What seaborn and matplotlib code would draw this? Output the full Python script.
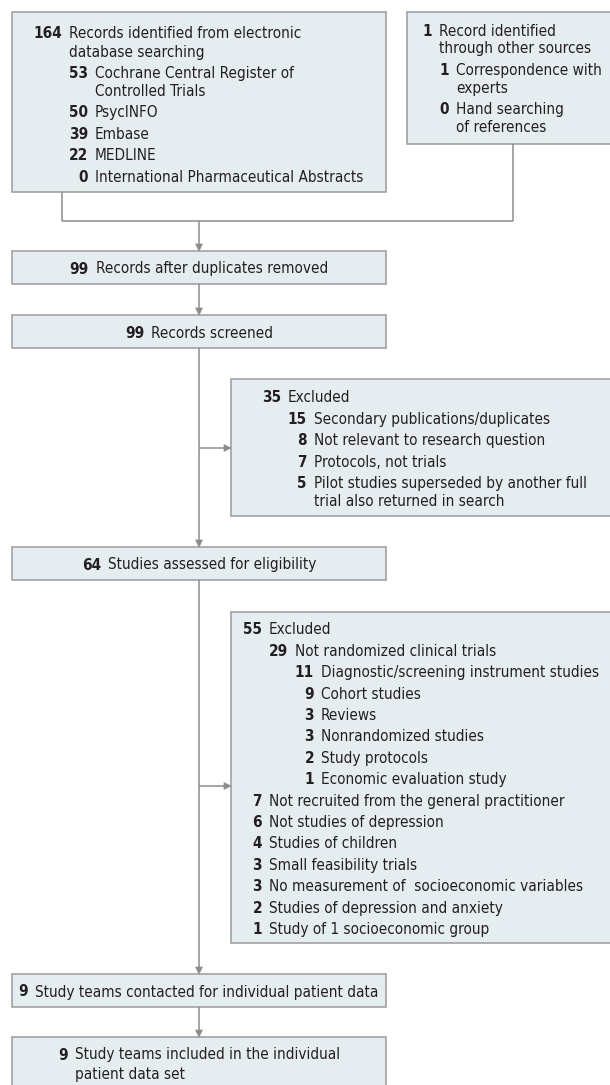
import matplotlib
matplotlib.use("Agg")
import matplotlib.pyplot as plt
from matplotlib.patches import Rectangle, Polygon
import seaborn as sns

# ---------------- data ----------------
db_counts = [164, 53, 50, 39, 22, 0]
db_labels = ["Records identified from electronic\ndatabase searching",
             "Cochrane Central Register of\nControlled Trials",
             "PsycINFO", "Embase", "MEDLINE",
             "International Pharmaceutical Abstracts"]
other_counts = [1, 1, 0]
other_labels = ["Record identified\nthrough other sources",
                "Correspondence with\nexperts",
                "Hand searching\nof references"]
dup_count, dup_label = 99, "Records after duplicates removed"
screen_count, screen_label = 99, "Records screened"
excl1_counts = [35, 15, 8, 7, 5]
excl1_labels = ["Excluded", "Secondary publications/duplicates",
                "Not relevant to research question", "Protocols, not trials",
                "Pilot studies superseded by another full\ntrial also returned in search"]
elig_count, elig_label = 64, "Studies assessed for eligibility"
excl2_counts = [55, 29, 11, 9, 3, 3, 2, 1, 7, 6, 4, 3, 3, 2, 1]
excl2_labels = ["Excluded", "Not randomized clinical trials",
                "Diagnostic/screening instrument studies", "Cohort studies",
                "Reviews", "Nonrandomized studies", "Study protocols",
                "Economic evaluation study",
                "Not recruited from the general practitioner",
                "Not studies of depression", "Studies of children",
                "Small feasibility trials",
                "No measurement of  socioeconomic variables",
                "Studies of depression and anxiety",
                "Study of 1 socioeconomic group"]
contact_count, contact_label = 9, "Study teams contacted for individual patient data"
incl_count, incl_label = 9, "Study teams included in the individual\npatient data set"

# ---------------- style ----------------
sns.set_theme(style="white")
FAM = ["DejaVu Sans", "Liberation Sans"]
plt.rcParams["font.family"] = FAM
FILL = "#e6edf1"
EDGE = "#9a9a9a"
LINE = "#8c8c8c"
TXT = "#231f20"
FS = 11.0
STRETCH = "condensed"

W, H = 610, 1085
fig = plt.figure(figsize=(W / 100, H / 100), dpi=100)
ax = fig.add_axes([0, 0, 1, 1])
ax.set_xlim(0, W)
ax.set_ylim(H, 0)
ax.axis("off")

def box(x0, y0, x1, y1):
    ax.add_patch(Rectangle((x0, y0), x1 - x0, y1 - y0, facecolor=FILL,
                           edgecolor=EDGE, linewidth=1.1, zorder=1))

def line(x0, y0, x1, y1):
    ax.plot([x0, x1], [y0, y1], color=LINE, lw=1.1, solid_capstyle="butt", zorder=2)

def arrow(x0, y0, x1, y1):
    hl, hw = 7.0, 3.4
    if x0 == x1:
        s = 1 if y1 > y0 else -1
        line(x0, y0, x1, y1 - s * hl)
        tri = [(x1, y1), (x1 - hw, y1 - s * hl), (x1 + hw, y1 - s * hl)]
    else:
        s = 1 if x1 > x0 else -1
        line(x0, y0, x1 - s * hl, y1)
        tri = [(x1, y1), (x1 - s * hl, y1 - hw), (x1 - s * hl, y1 + hw)]
    ax.add_patch(Polygon(tri, closed=True, facecolor=LINE, edgecolor=LINE,
                         lw=0.5, zorder=3))

BASE = 5.5  # baseline offset below visual line centre

def put_num(x, y, n):
    ax.text(x, y + BASE, str(n), ha="right", va="baseline", fontsize=FS,
            fontweight="bold", fontstretch=STRETCH, color=TXT, zorder=4)

def put_txt(x, y, s):
    ax.text(x, y + BASE, s, ha="left", va="baseline", fontsize=FS,
            fontstretch=STRETCH, color=TXT, zorder=4)

def item_list(counts, labels, levels, num_x, y0, gap=7.0, step=21.4, cont=18.0):
    y = y0
    for n, lab, lv in zip(counts, labels, levels):
        put_num(num_x[lv], y, n)
        parts = lab.split("\n")
        for k, p in enumerate(parts):
            put_txt(num_x[lv] + gap, y + k * cont, p)
        y += step + (len(parts) - 1) * cont

renderer = fig.canvas.get_renderer()

def centred(cx, cy, n, s, gap=7.0):
    t1 = ax.text(0, cy + BASE, str(n), ha="left", va="baseline", fontsize=FS,
                 fontweight="bold", fontstretch=STRETCH, color=TXT, zorder=4)
    t2 = ax.text(0, cy + BASE, s, ha="left", va="baseline", fontsize=FS,
                 fontstretch=STRETCH, color=TXT, zorder=4)
    w1 = t1.get_window_extent(renderer).width
    w2 = t2.get_window_extent(renderer).width
    start = cx - (w1 + gap + w2) / 2
    t1.set_x(start)
    t2.set_x(start + w1 + gap)

# ---------------- boxes ----------------
R = W + 2
box(12, 12, 386, 192)
box(407, 12, R, 144)
box(12, 251, 386, 284)
box(12, 315, 386, 348)
box(231, 379, R, 516)
box(12, 547, 386, 580)
box(231, 612, R, 943)
box(12, 974, 386, 1007)
box(12, 1037, 386, H + 5)

# ---------------- connectors ----------------
CX = 199
line(62, 192, 62, 221)
line(513, 144, 513, 221)
line(62, 221, 513, 221)
arrow(CX, 221, CX, 251)
arrow(CX, 284, CX, 315)
arrow(CX, 348, CX, 547)
arrow(CX, 448, 231, 448)
arrow(CX, 580, CX, 974)
arrow(CX, 786, 231, 786)
arrow(CX, 1007, CX, 1037)

# ---------------- text ----------------
item_list(db_counts, db_labels, [0, 1, 1, 1, 1, 1], {0: 62, 1: 88}, 33)
item_list(other_counts, other_labels, [0, 1, 1], {0: 432, 1: 449}, 30)
centred(CX, 268, dup_count, dup_label)
centred(CX, 332, screen_count, screen_label)
item_list(excl1_counts, excl1_labels, [0, 1, 1, 1, 1], {0: 281, 1: 307}, 397)
centred(CX, 564, elig_count, elig_label)
item_list(excl2_counts, excl2_labels,
          [0, 1, 2, 2, 2, 2, 2, 2, 0, 0, 0, 0, 0, 0, 0],
          {0: 262, 1: 288, 2: 314}, 629)
item_list([contact_count], [contact_label], [0], {0: 28}, 991)
item_list([incl_count], [incl_label], [0], {0: 68}, 1054, cont=19)

fig.savefig("out.png", dpi=100, facecolor="white")
